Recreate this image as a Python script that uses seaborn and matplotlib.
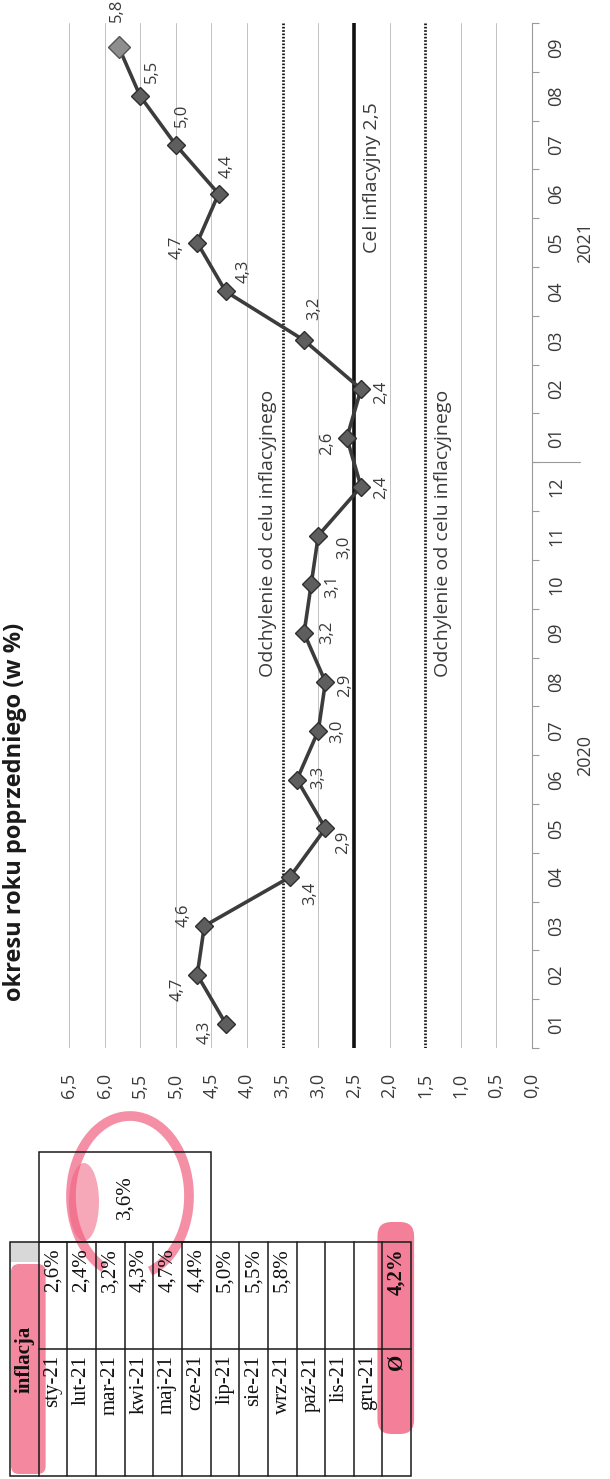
import matplotlib
matplotlib.use("Agg")
import matplotlib.pyplot as plt
import matplotlib.transforms as mtransforms
from matplotlib.patches import Rectangle, Ellipse, Arc, FancyBboxPatch
import numpy as np
import seaborn as sns

# chart data
MONTH_LABELS = ["01", "02", "03", "04", "05", "06", "07", "08", "09", "10", "11", "12",
                "01", "02", "03", "04", "05", "06", "07", "08", "09"]
YEAR_LABELS = ["2020", "2021"]
MONTHS_PER_YEAR = [12, 9]
INFLATION = [4.3, 4.7, 4.6, 3.4, 2.9, 3.3, 3.0, 2.9, 3.2, 3.1, 3.0, 2.4,
             2.6, 2.4, 3.2, 4.3, 4.7, 4.4, 5.0, 5.5, 5.8]
VALUE_TICKS = [0.0, 0.5, 1.0, 1.5, 2.0, 2.5, 3.0, 3.5, 4.0, 4.5, 5.0, 5.5, 6.0, 6.5]
TARGET = 2.5
BAND = [1.5, 3.5]
BAND_TEXT = "Odchylenie od celu inflacyjnego"
TARGET_TEXT = "Cel inflacyjny 2,5"
TITLE = "okresu roku poprzedniego (w %)"

# table data
TABLE_HEADER = "inflacja"
TABLE_MONTHS = ["sty-21", "lut-21", "mar-21", "kwi-21", "maj-21", "cze-21",
                "lip-21", "sie-21", "wrz-21", "paź-21", "lis-21", "gru-21"]
TABLE_VALUES = [2.6, 2.4, 3.2, 4.3, 4.7, 4.4, 5.0, 5.5, 5.8, None, None, None]
HALF_YEAR_AVG = 3.6
YEAR_AVG = 4.2

# label offsets in page pixels (dx right, dy down)
LABEL_OFFSETS = [(-21, 9), (-20, 15), (-21, -11), (20, 16), (18, 14), (21, -2), (19, 1),
                 (20, 3), (23, -1), (21, 2), (26, 12), (20, 1), (-20, 5), (20, 3),
                 (10, -32), (18, -20), (-21, 5), (8, -28), (6, -30), (12, -25), (-2, -37)]

W, H = 610, 1479
INK = "#3a3a3a"
PINK = "#f0607f"


def fmt(v: float) -> str:
    return f"{v:.1f}".replace(".", ",")


def px_box(x0, y0, x1, y1):
    return [x0 / W, 1 - y1 / H, (x1 - x0) / W, (y1 - y0) / H]


sns.set_theme(style="white")
plt.rcParams["font.family"] = ["Open Sans", "DejaVu Sans"]

fig = plt.figure(figsize=(W / 100, H / 100), dpi=100)
fig.patch.set_facecolor("white")

ax = fig.add_axes(px_box(69, 23, 532, 1048))
idx = np.arange(len(INFLATION))

for v in VALUE_TICKS:
    if v in BAND or v == TARGET or v == 0:
        continue
    ax.axvline(v, color="#c2c2c2", lw=0.7, zorder=0)
for v in BAND:
    ax.axvline(v, color="#1a1a1a", lw=2.0, ls=(0, (0.6, 0.6)), zorder=1)
ax.axvline(TARGET, color="#111111", lw=2.6, zorder=1)

sns.lineplot(x=INFLATION, y=idx, sort=False, estimator=None, ax=ax, color="#3c3c3c",
             lw=2.6, marker="D", markersize=9, markerfacecolor="#5e5e5e",
             markeredgecolor="#2e2e2e", markeredgewidth=1.0, zorder=3)
ax.plot(INFLATION[-1], idx[-1], marker="D", ms=11.5, mfc="#8e8e8e", mec="#555555",
        mew=1.0, zorder=4)

for value, i, (dx, dy) in zip(INFLATION, idx, LABEL_OFFSETS):
    ax.annotate(fmt(value), (value, i), xytext=(dx, -dy), textcoords="offset pixels",
                rotation=90, rotation_mode="anchor", ha="center", va="center",
                fontsize=12, color=INK, zorder=5)

ax.text(3.71, 10.05, BAND_TEXT, rotation=90, rotation_mode="anchor", ha="center",
        va="center", fontsize=14, color=INK)
ax.text(1.25, 10.05, BAND_TEXT, rotation=90, rotation_mode="anchor", ha="center",
        va="center", fontsize=14, color=INK)
ax.text(2.25, 17.33, TARGET_TEXT, rotation=90, rotation_mode="anchor", ha="center",
        va="center", fontsize=14, color=INK)

ax.set_xlim(6.5, 0)
ax.set_ylim(-0.5, len(INFLATION) - 0.5)
ax.set_xticks(VALUE_TICKS)
ax.set_xticklabels([fmt(v) for v in VALUE_TICKS], rotation=90)
ax.tick_params(axis="x", length=0, pad=18, labelsize=13, labelcolor=INK)

ax.yaxis.tick_right()
ax.set_yticks(idx)
ax.set_yticklabels(MONTH_LABELS, rotation=90, va="center")
ax.set_yticks(np.arange(-0.5, len(INFLATION), 1.0), minor=True)
ax.tick_params(axis="y", which="major", length=0, pad=11, labelsize=13, labelcolor=INK)
ax.tick_params(axis="y", which="minor", length=5, width=0.8, color="#9a9a9a",
               direction="out", right=True, left=False)
for side in ["top", "bottom", "left"]:
    ax.spines[side].set_visible(False)
ax.spines["right"].set_color("#9a9a9a")
ax.spines["right"].set_linewidth(0.8)
ax.set_xlabel("")
ax.set_ylabel("")

blend = mtransforms.blended_transform_factory(ax.transAxes, ax.transData)
start = 0
for year, n in zip(YEAR_LABELS, MONTHS_PER_YEAR):
    ax.text(1.115, start + (n - 1) / 2, year, transform=blend, rotation=90,
            rotation_mode="anchor", ha="center", va="center", fontsize=13, color=INK)
    if start + n < len(INFLATION):
        ax.plot([1.0, 1.104], [start + n - 0.5] * 2, transform=blend, color="#9a9a9a",
                lw=0.8, clip_on=False)
    start += n

fig.text(21 / W, 1 - 1001 / H, TITLE, rotation=90, rotation_mode="anchor", ha="left",
         va="baseline", fontsize=17, fontweight="bold", color="#1a1a1a")

# table (rotated, drawn in page pixels)
tab = fig.add_axes([0, 0, 1, 1])
tab.set_xlim(0, W)
tab.set_ylim(H, 0)
tab.axis("off")
tab.patch.set_alpha(0)

left, strip = 10, 28.65
top, mid, bottom, box_top = 1242, 1349, 1476, 1152
n_strips = len(TABLE_MONTHS) + 2
edges = left + strip * np.arange(n_strips + 1)
centers = (edges[:-1] + edges[1:]) / 2
serif = ["Liberation Serif", "DejaVu Serif"]

# highlighter marks
tab.add_patch(Rectangle((edges[0], top), strip, 20, color="#d8d8d8", lw=0, zorder=0))
tab.add_patch(FancyBboxPatch((edges[0] + 1, top + 22), strip + 6, bottom - top - 24,
                             boxstyle="round,pad=0,rounding_size=8", color=PINK,
                             alpha=0.75, lw=0, zorder=0))
tab.add_patch(FancyBboxPatch((edges[-2] - 5, top - 20), strip + 8, 212,
                             boxstyle="round,pad=0,rounding_size=14", color=PINK,
                             alpha=0.8, lw=0, zorder=0))
tab.add_patch(Arc((130, 1196), 118, 160, theta1=-250, theta2=75, color=PINK, lw=7,
                  alpha=0.7, zorder=0))
tab.add_patch(Ellipse((84, 1202), 30, 78, color=PINK, alpha=0.55, lw=0, zorder=0))

line_kw = dict(color="#1a1a1a", lw=1.1, zorder=2)
tab.add_patch(Rectangle((edges[0], top), edges[-1] - edges[0], bottom - top, fill=False,
                        **line_kw))
for x in edges[1:-1]:
    tab.plot([x, x], [top, bottom], **line_kw)
tab.plot([edges[1], edges[-1]], [mid, mid], **line_kw)
tab.add_patch(Rectangle((edges[1], box_top), edges[7] - edges[1], top - box_top,
                        fill=False, **line_kw))

text_kw = dict(rotation=90, rotation_mode="anchor", va="center", fontsize=15,
               family=serif, color="#111111", zorder=3)
tab.text(centers[0], (top + bottom) / 2, TABLE_HEADER, ha="center", fontweight="bold",
         **text_kw)
for k, (name, value) in enumerate(zip(TABLE_MONTHS, TABLE_VALUES)):
    tab.text(centers[k + 1], mid + 6, name, ha="right", **text_kw)
    if value is not None:
        tab.text(centers[k + 1], top + 6, f"{fmt(value)}%", ha="right", **text_kw)
tab.text(centers[-1], mid + 5, "Ø", ha="right", fontweight="bold", **text_kw)
tab.text(centers[-1], top + 6, f"{fmt(YEAR_AVG)}%", ha="right", fontweight="bold",
         **text_kw)
tab.text((edges[1] + edges[7]) / 2, (box_top + top) / 2, f"{fmt(HALF_YEAR_AVG)}%",
         ha="center", **text_kw)

fig.savefig("out.png", dpi=100, facecolor="white")
